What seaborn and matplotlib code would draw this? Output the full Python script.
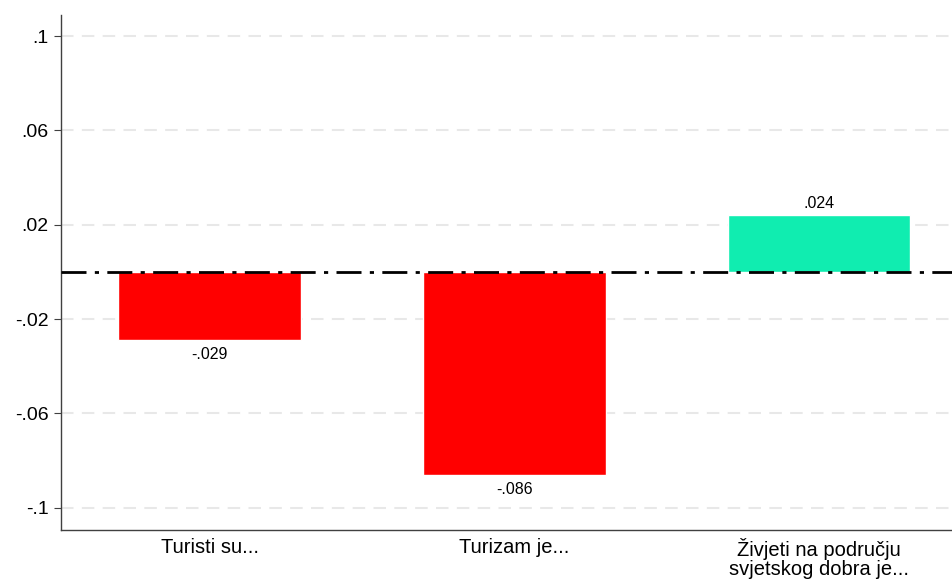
import matplotlib
matplotlib.use("Agg")
import matplotlib.pyplot as plt
import seaborn as sns
import pandas as pd

categories = ["Turisti su...", "Turizam je...", "Živjeti na području\nsvjetskog dobra je..."]
values = [-0.029, -0.086, 0.024]
labels = ["-.029", "-.086", ".024"]
yticks = [-0.1, -0.06, -0.02, 0.02, 0.06, 0.1]
yticklabels = ["-.1", "-.06", "-.02", ".02", ".06", ".1"]

sns.set_style("white")
plt.rcParams["font.family"] = ["Liberation Sans", "DejaVu Sans"]
plt.rcParams["text.color"] = "black"
plt.rcParams["xtick.color"] = "black"
plt.rcParams["ytick.color"] = "black"

df = pd.DataFrame({"cat": categories, "val": values})
colors = ["#ff0000" if v < 0 else "#10edb0" for v in values]

fig, ax = plt.subplots(figsize=(9.53, 5.79), dpi=100)
fig.subplots_adjust(left=0.064, right=1.0, top=0.974, bottom=0.085)

sns.barplot(data=df, x="cat", y="val", hue="cat", palette=colors, legend=False,
            width=0.6, saturation=1, ax=ax, zorder=2)

for y in yticks:
    ax.axhline(y, color="#e8e8e8", lw=1.5, ls=(0, (6, 4)), zorder=0)
ax.axhline(0, color="black", lw=2, ls=(0, (9, 3, 1.5, 3)), zorder=3)

for i, (v, lab) in enumerate(zip(values, labels)):
    off = 0.002 if v > 0 else -0.003
    ax.text(i, v + off, lab, ha="center", va="bottom" if v > 0 else "top", fontsize=11.5)

ax.set_ylim(-0.1093, 0.1089)
ax.set_xlim(-0.488, 2.44)
ax.set_yticks(yticks)
ax.set_yticklabels(yticklabels, fontsize=14)
ax.tick_params(axis="y", length=5, color="#404040", left=True, pad=4)
ax.tick_params(axis="x", length=0, labelsize=14.5, pad=6)
for t in ax.get_xticklabels():
    t.set_linespacing(0.98)
ax.set_xlabel("")
ax.set_ylabel("")
for s in ["top", "right"]:
    ax.spines[s].set_visible(False)
for s in ["left", "bottom"]:
    ax.spines[s].set_color("#404040")
    ax.spines[s].set_linewidth(1)

plt.savefig("out.png", dpi=100)
plt.close()
